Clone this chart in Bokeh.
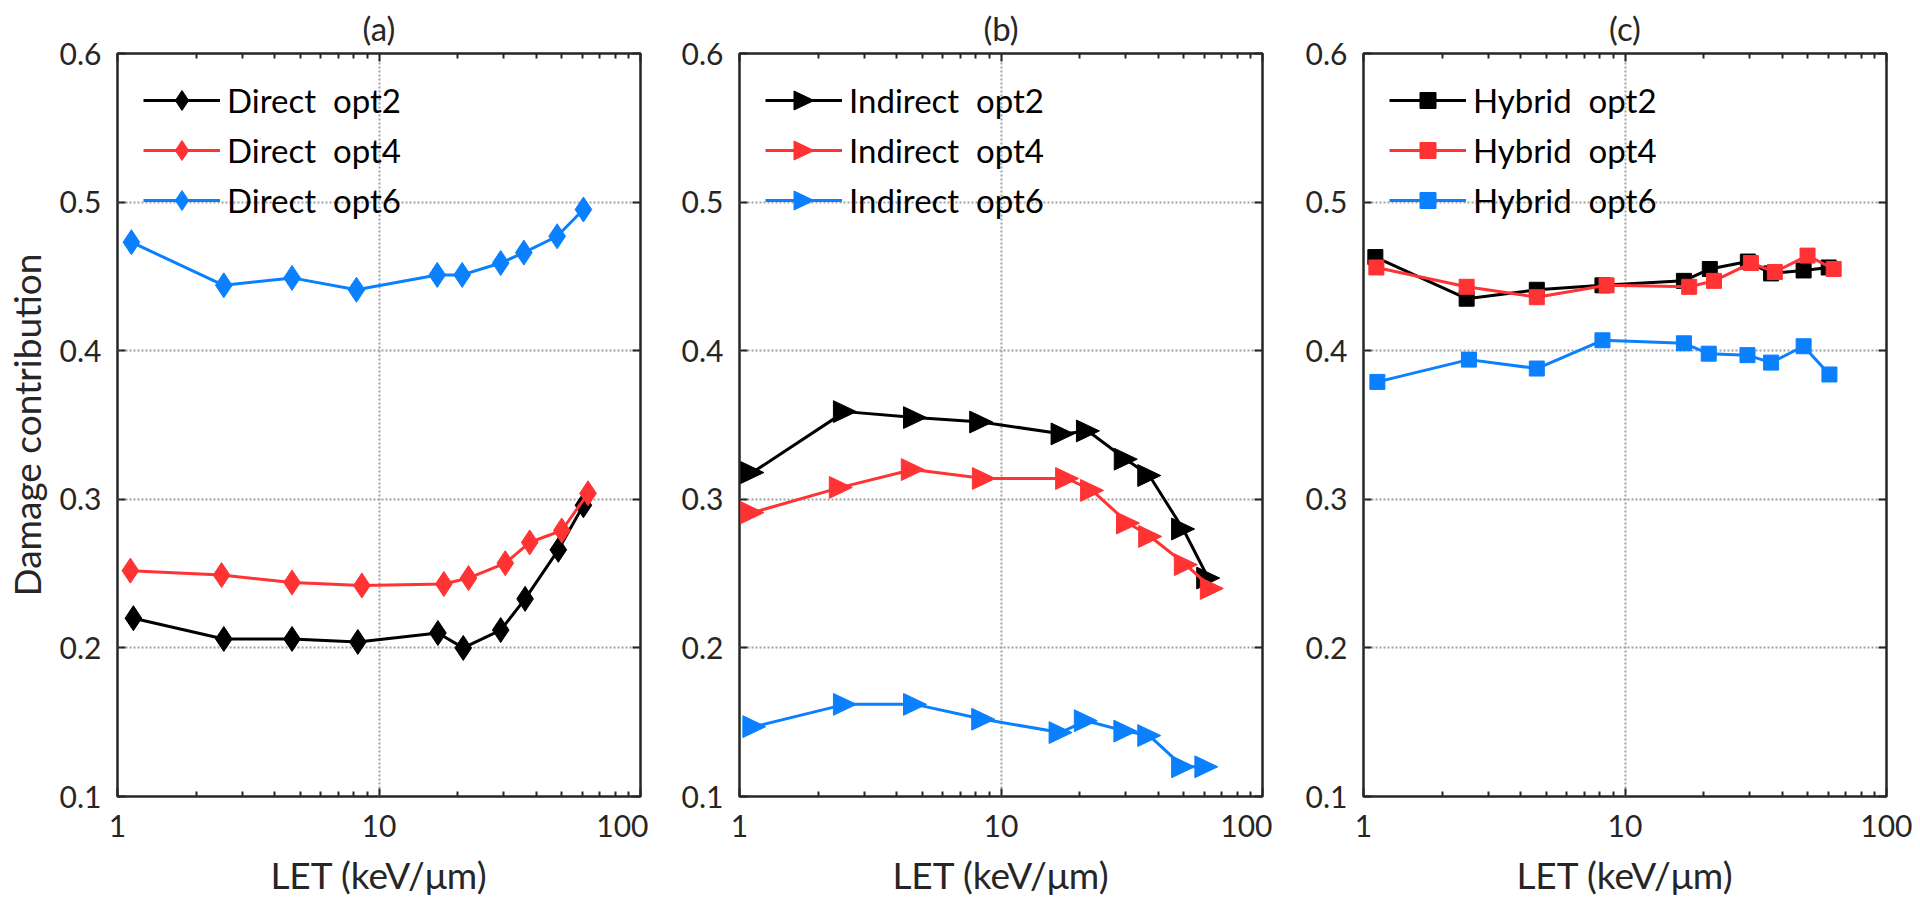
from bokeh.plotting import figure
from bokeh.models import (Range1d, FixedTicker, LogAxis, LinearAxis, Legend, LegendItem,
                          PrintfTickFormatter, CustomJS)
from bokeh.layouts import row
from bokeh.embed import file_html
from bokeh.resources import INLINE

# ---------------- data ----------------
titles = ["(a)", "(b)", "(c)"]
series_names = ["opt2", "opt4", "opt6"]
prefixes = ["Direct", "Indirect", "Hybrid"]

a_x_opt2 = [1.15, 2.55, 4.65, 8.3, 16.8, 21.0, 29.2, 36.2, 48.5, 60.5]
a_opt2 = [0.220, 0.206, 0.206, 0.204, 0.210, 0.200, 0.212, 0.233, 0.266, 0.296]
a_x_opt4 = [1.12, 2.5, 4.65, 8.6, 17.7, 22.0, 30.4, 37.7, 50.0, 63.0]
a_opt4 = [0.252, 0.249, 0.244, 0.242, 0.243, 0.247, 0.257, 0.271, 0.279, 0.304]
a_x_opt6 = [1.13, 2.55, 4.65, 8.2, 16.7, 20.8, 29.2, 35.8, 48.0, 60.5]
a_opt6 = [0.473, 0.444, 0.449, 0.441, 0.451, 0.451, 0.459, 0.466, 0.477, 0.495]

b_x_opt2 = [1.12, 2.53, 4.69, 8.4, 17.2, 21.5, 30.0, 36.9, 49.7, 62.0]
b_opt2 = [0.318, 0.359, 0.355, 0.352, 0.344, 0.346, 0.327, 0.316, 0.280, 0.247]
b_x_opt4 = [1.12, 2.44, 4.6, 8.6, 17.9, 22.3, 30.6, 37.2, 50.9, 64.0]
b_opt4 = [0.291, 0.308, 0.320, 0.314, 0.314, 0.306, 0.284, 0.275, 0.256, 0.240]
b_x_opt6 = [1.14, 2.53, 4.69, 8.55, 16.9, 21.1, 29.9, 36.9, 49.7, 61.0]
b_opt6 = [0.147, 0.162, 0.162, 0.152, 0.143, 0.151, 0.144, 0.141, 0.120, 0.120]

c_x_opt2 = [1.11, 2.48, 4.6, 8.2, 16.8, 21.1, 29.5, 36.2, 48.2, 60.1]
c_opt2 = [0.463, 0.435, 0.441, 0.444, 0.447, 0.455, 0.460, 0.452, 0.454, 0.456]
c_x_opt4 = [1.12, 2.48, 4.6, 8.5, 17.6, 21.9, 30.3, 37.4, 49.9, 62.8]
c_opt4 = [0.456, 0.443, 0.436, 0.444, 0.443, 0.447, 0.459, 0.453, 0.464, 0.455]
c_x_opt6 = [1.13, 2.53, 4.6, 8.2, 16.8, 20.9, 29.4, 36.2, 48.2, 60.5]
c_opt6 = [0.379, 0.394, 0.388, 0.407, 0.405, 0.398, 0.397, 0.392, 0.403, 0.384]

y_ticks = [0.1, 0.2, 0.3, 0.4, 0.5, 0.6]
x_ticks = [1, 10, 100]
x_minor = [2, 3, 4, 5, 6, 7, 8, 9, 20, 30, 40, 50, 60, 70, 80, 90]

colors = ["#000000", "#ff3333", "#0a80ff"]
FONT = "Lato"
AX = "#262626"

# right-pointing triangle marker (MATLAB '>')
TRI_RIGHT = CustomJS(code="""
export default (args, obj, {ctx, i, r, visuals}) => {
  ctx.beginPath()
  ctx.moveTo(r, 0)
  ctx.lineTo(-r, 0.95*r)
  ctx.lineTo(-r, -0.95*r)
  ctx.closePath()
  visuals.fill.apply(ctx, i)
  visuals.line.apply(ctx, i)
}
""")


def style_ticks(ax):
    ax.axis_line_color = None
    ax.major_tick_in = 8
    ax.major_tick_out = 0
    ax.minor_tick_in = 5
    ax.minor_tick_out = 0
    ax.major_tick_line_color = AX
    ax.major_tick_line_width = 2
    ax.minor_tick_line_color = AX
    ax.minor_tick_line_width = 2


def make_panel(title, xs, ys, prefix, marker, msize, left, right, ylabel, leg_h):
    p = figure(x_axis_type="log", x_range=Range1d(1, 100), y_range=Range1d(0.1, 0.6),
               frame_width=523, frame_height=743,
               min_border_left=left, min_border_right=right,
               min_border_top=51, min_border_bottom=100,
               output_backend="svg", toolbar_location=None, title=title)
    p.title.align = "center"
    p.title.text_font = FONT
    p.title.text_font_size = "33px"
    p.title.text_font_style = "normal"
    p.title.text_color = AX
    p.title.standoff = 11

    p.outline_line_color = AX
    p.outline_line_width = 2.5
    p.outline_line_alpha = 1.0

    xa = p.xaxis[0]
    xa.ticker = FixedTicker(ticks=x_ticks, minor_ticks=x_minor)
    xa.formatter = PrintfTickFormatter(format="%d")
    ya = p.yaxis[0]
    ya.ticker = FixedTicker(ticks=y_ticks)
    for ax in (xa, ya):
        style_ticks(ax)
        ax.major_label_text_font = FONT
        ax.major_label_text_font_size = "30px"
        ax.major_label_text_color = AX
        ax.major_label_standoff = 16
        ax.axis_label_text_font = FONT
        ax.axis_label_text_font_size = "37px"
        ax.axis_label_text_font_style = "normal"
        ax.axis_label_text_color = AX
    xa.major_label_standoff = 18
    xa.axis_label = "LET (keV/μm)"
    xa.axis_label_standoff = 12
    if ylabel:
        ya.axis_label = "Damage contribution"
        ya.axis_label_standoff = 8

    top = LogAxis(ticker=FixedTicker(ticks=x_ticks, minor_ticks=x_minor))
    right_ax = LinearAxis(ticker=FixedTicker(ticks=y_ticks))
    for ax in (top, right_ax):
        style_ticks(ax)
        ax.major_label_text_font_size = "1px"
        ax.major_label_text_alpha = 0
        ax.major_label_standoff = 0
    p.add_layout(top, "above")
    p.add_layout(right_ax, "right")

    p.xgrid.ticker = FixedTicker(ticks=[10])
    p.ygrid.ticker = FixedTicker(ticks=[0.2, 0.3, 0.4, 0.5])
    for g in (p.xgrid[0], p.ygrid[0]):
        g.grid_line_color = "#a0a0a0"
        g.grid_line_width = 2
        g.grid_line_dash = "2 2"

    items = []
    for x, y, c, nm in zip(xs, ys, colors, series_names):
        lr = p.line(x, y, line_color=c, line_width=3)
        if marker == "tri_right":
            sr = p.scatter(x, y, marker="@tri_right", defs={"@tri_right": TRI_RIGHT},
                           size=msize, fill_color=c, line_color=c, line_width=1)
        else:
            sr = p.scatter(x, y, marker=marker, size=msize,
                           fill_color=c, line_color=c, line_width=1)
        items.append(LegendItem(label=f"{prefix}\u00a0 {nm}", renderers=[lr, sr]))
    sp = 50 - leg_h
    leg = Legend(items=items, location=(26, 596 - leg_h / 2), padding=0, spacing=sp,
                 glyph_width=77, glyph_height=leg_h, label_height=leg_h, label_standoff=7,
                 background_fill_alpha=0, border_line_color=None,
                 label_text_font=FONT, label_text_font_size="33px", label_text_color="#000000")
    p.add_layout(leg)
    return p


p1 = make_panel(titles[0], [a_x_opt2, a_x_opt4, a_x_opt6], [a_opt2, a_opt4, a_opt6],
                prefixes[0], "diamond", 25, 111, 8, True, 50)
p2 = make_panel(titles[1], [b_x_opt2, b_x_opt4, b_x_opt6], [b_opt2, b_opt4, b_opt6],
                prefixes[1], "tri_right", 23, 91, 10, False, 50)
p3 = make_panel(titles[2], [c_x_opt2, c_x_opt4, c_x_opt6], [c_opt2, c_opt4, c_opt6],
                prefixes[2], "square", 15, 91, 26, False, 40)

layout = row(p1, p2, p3)
open("out.html", "w").write(file_html(layout, INLINE))
